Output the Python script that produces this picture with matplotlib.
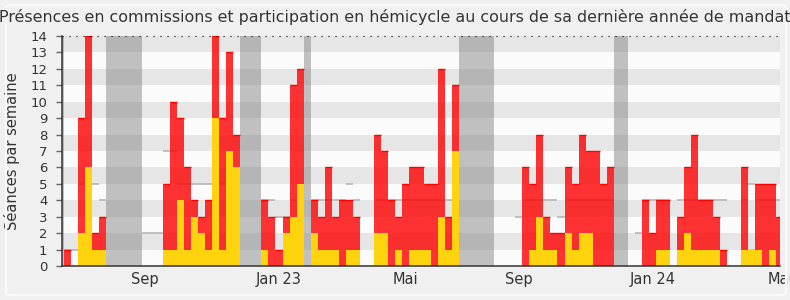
import numpy as np
import matplotlib
matplotlib.use("Agg")
import matplotlib.pyplot as plt
from matplotlib.patches import FancyBboxPatch

title = "Présences en commissions et participation en hémicycle au cours de sa dernière année de mandat"
ylabel = "Séances par semaine"

# weekly values (week index 0..101)
red = [1, 0, 9, 14, 2, 3, 0, 0, 0, 0,
       0, 0, 0, 0, 5, 10, 9, 6, 4, 3,
       4, 14, 9, 13, 8, 0, 0, 0, 4, 3,
       1, 3, 11, 12, 0, 4, 3, 6, 3, 4,
       4, 3, 0, 0, 8, 7, 4, 3, 5, 6,
       6, 5, 5, 12, 3, 11, 0, 0, 0, 0,
       0, 0, 0, 0, 0, 6, 5, 8, 3, 2,
       2, 6, 5, 8, 7, 7, 5, 6, 0, 0,
       0, 0, 4, 2, 4, 4, 0, 3, 6, 8,
       4, 4, 3, 1, 0, 0, 6, 1, 5, 5,
       5, 3]
yellow = [0, 0, 2, 6, 1, 1, 0, 0, 0, 0,
          0, 0, 0, 0, 1, 1, 4, 1, 3, 2,
          1, 9, 1, 7, 6, 0, 0, 0, 1, 0,
          0, 2, 3, 5, 0, 2, 1, 1, 1, 0,
          1, 1, 0, 0, 2, 2, 0, 1, 0, 1,
          1, 1, 0, 3, 1, 7, 0, 0, 0, 0,
          0, 0, 0, 0, 0, 0, 1, 3, 1, 1,
          0, 2, 1, 2, 2, 0, 0, 0, 0, 0,
          0, 0, 0, 0, 1, 1, 0, 1, 2, 1,
          1, 1, 1, 0, 0, 0, 1, 1, 1, 0,
          1, 0]
median = [1, 1, 5, 5, 5, 4, 0, 0, 0, 0,
          0, 2, 2, 2, 7, 7, 5, 5, 5, 5,
          5, 5, 5, 5, 5, 0, 0, 0, 4, 4,
          3, 3, 4, 4, 0, 4, 4, 4, 4, 4,
          5, 4, 0, 0, 4, 4, 4, 4, 4, 4,
          4, 4, 4, 4, 4, 4, 0, 0, 0, 0,
          0, 0, 0, 0, 3, 4, 4, 4, 4, 4,
          3, 4, 4, 4, 4, 4, 4, 4, 0, 0,
          0, 2, 4, 4, 4, 4, 0, 4, 4, 4,
          4, 4, 4, 4, 0, 0, 4, 5, 4, 4,
          4, 4]
vacations = [(-1, 0), (6, 11), (25, 28), (34, 35), (56, 61), (78, 80)]
tick_pos = [11.49, 30.43, 48.47, 64.5, 83.5, 101.56]
tick_labels = ["Sep", "Jan 23", "Mai", "Sep", "Jan 24", "Mai"]

weeks = np.arange(len(red))
red_a = np.array(red)
yel_a = np.array(yellow)
med_a = np.array(median)

fig = plt.figure(figsize=(7.9, 3.0), dpi=100, facecolor="#f0f0f0")
fig.patches.append(FancyBboxPatch((6 / 790, 5 / 300), 780 / 790, 290 / 300,
                                  boxstyle="round,pad=0,rounding_size=0.008",
                                  transform=fig.transFigure, fc="none",
                                  ec="#fafafa", lw=1.5, zorder=0))

ax = fig.add_axes([62 / 790, 34 / 300, 718 / 790, 230 / 300])
ax.set_facecolor("#fbfbfb")
ax.set_xlim(-0.28, 101.56)
ax.set_ylim(0, 14)

for lo in range(1, 14, 2):
    ax.axhspan(lo, lo + 1, color="#e6e6e6", lw=0, zorder=0)

for a, b in vacations:
    ax.axvspan(a, b, color="#808080", alpha=0.48, lw=0, zorder=1)

m = med_a > 0
ax.hlines(med_a[m], weeks[m], weeks[m] + 1, color="#b0b0b0", lw=1.1, zorder=2)

ax.bar(weeks, red_a, width=1, align="edge", color="#ff0000", alpha=0.8,
       lw=0, zorder=3, antialiased=False)
r = red_a > 0
ax.hlines(red_a[r], weeks[r], weeks[r] + 1, color="#ff0000", lw=1.0, zorder=4)
ax.bar(weeks, yel_a, width=1, align="edge", color="#ffd30d", lw=0,
       zorder=5, antialiased=False)

ax.axhline(14, color="black", lw=0.8, linestyle=(0, (1, 5.3)), zorder=6,
           clip_on=False)

for s in ["top", "right"]:
    ax.spines[s].set_visible(False)
for s in ["left", "bottom"]:
    ax.spines[s].set_color("#333333")
    ax.spines[s].set_linewidth(1.1)
    ax.spines[s].set_zorder(7)

ax.set_yticks(range(15))
ax.tick_params(axis="y", length=4, width=1, color="#666666", pad=6.5,
               labelsize=9.5, labelcolor="#333333")
ax.set_xticks(tick_pos, tick_labels)
ax.tick_params(axis="x", length=0, pad=4, labelsize=10.5, labelcolor="#333333")

ax.set_ylabel(ylabel, fontsize=10.5, color="#333333")
ax.yaxis.set_label_coords((20 - 62) / 718, 0.5)

fig.text(0.5, 1 - 17 / 300, title, ha="center", va="center",
         fontsize=11.4, color="#333333")

fig.savefig("out.png", dpi=100, facecolor=fig.get_facecolor())
